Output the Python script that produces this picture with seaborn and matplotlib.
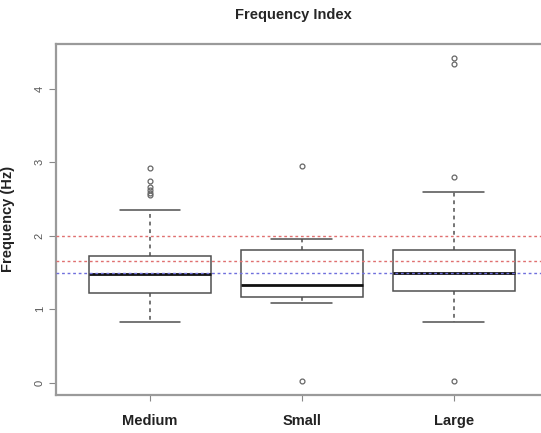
import numpy as np
import pandas as pd
import matplotlib
matplotlib.use('Agg')
import matplotlib.pyplot as plt
import seaborn as sns

# data
groups = ['Medium', 'Small', 'Large']
medium = [0.83, 0.95, 1.02, 1.08, 1.12, 1.16, 1.19, 1.22, 1.28, 1.33, 1.38, 1.42, 1.45, 1.47,
          1.48, 1.52, 1.56, 1.60, 1.64, 1.68, 1.71, 1.73, 2.35,
          2.55, 2.58, 2.62, 2.66, 2.75, 2.92]
small = [0.02, 1.09, 1.17, 1.25, 1.33, 1.60, 1.81, 1.96, 2.95]
large = [0.02, 0.83, 1.05, 1.18, 1.25, 1.32, 1.40, 1.45, 1.49, 1.56, 1.65, 1.74, 1.81,
         2.59, 2.80, 4.33, 4.42]
ref_red = [2.0, 1.66]
ref_blue = [1.5]

df = pd.DataFrame({
    'group': ['Medium'] * len(medium) + ['Small'] * len(small) + ['Large'] * len(large),
    'freq': medium + small + large,
})

sns.set_style('white')
plt.rcParams['font.family'] = ['Liberation Sans', 'DejaVu Sans']

fig = plt.figure(figsize=(5.41, 4.33), dpi=100)
ax = fig.add_axes([0.103, 0.088, 0.910, 0.811])

edge = '#505050'
sns.boxplot(data=df, x='group', y='freq', order=groups, ax=ax, width=0.8,
            color='white', linecolor=edge, linewidth=1.1,
            boxprops=dict(facecolor='white', edgecolor=edge),
            medianprops=dict(color='#111111', linewidth=2.0),
            whiskerprops=dict(color=edge, linestyle=(0, (2.5, 2.5))),
            capprops=dict(color=edge),
            flierprops=dict(marker='o', markersize=3.5, markerfacecolor='none',
                            markeredgecolor='#666666', markeredgewidth=0.9))

for v in ref_red:
    ax.axhline(v, color='#e07070', linestyle=(0, (2, 2)), linewidth=1.0, zorder=5)
for v in ref_blue:
    ax.axhline(v, color='#7070dd', linestyle=(0, (2, 2)), linewidth=1.0, zorder=5)

ax.set_xlim(-0.62, 2.62)
ax.set_ylim(-0.163, 4.61)
ax.set_yticks([0, 1, 2, 3, 4])
ax.set_yticklabels(['0', '1', '2', '3', '4'], rotation=90, va='center', fontsize=8, color='#555555')
ax.tick_params(axis='y', left=True, length=5, width=0.8, color='#888888', pad=3)
ax.tick_params(axis='x', bottom=True, length=4, width=0.8, color='#888888', pad=10)
for lab in ax.get_xticklabels():
    lab.set_fontweight('bold')
    lab.set_fontsize(10.5)
    lab.set_color('#222222')

for s in ['left', 'top', 'bottom', 'right']:
    ax.spines[s].set_color('#9a9a9a')
    ax.spines[s].set_linewidth(1.6)

ax.set_xlabel('')
ax.set_ylabel('Frequency (Hz)', fontsize=10.5, fontweight='bold', labelpad=14, color='#222222')
fig.text(0.543, 0.965, 'Frequency Index', ha='center', va='center', fontsize=10.5, fontweight='bold')

fig.savefig('out.png', dpi=100)
